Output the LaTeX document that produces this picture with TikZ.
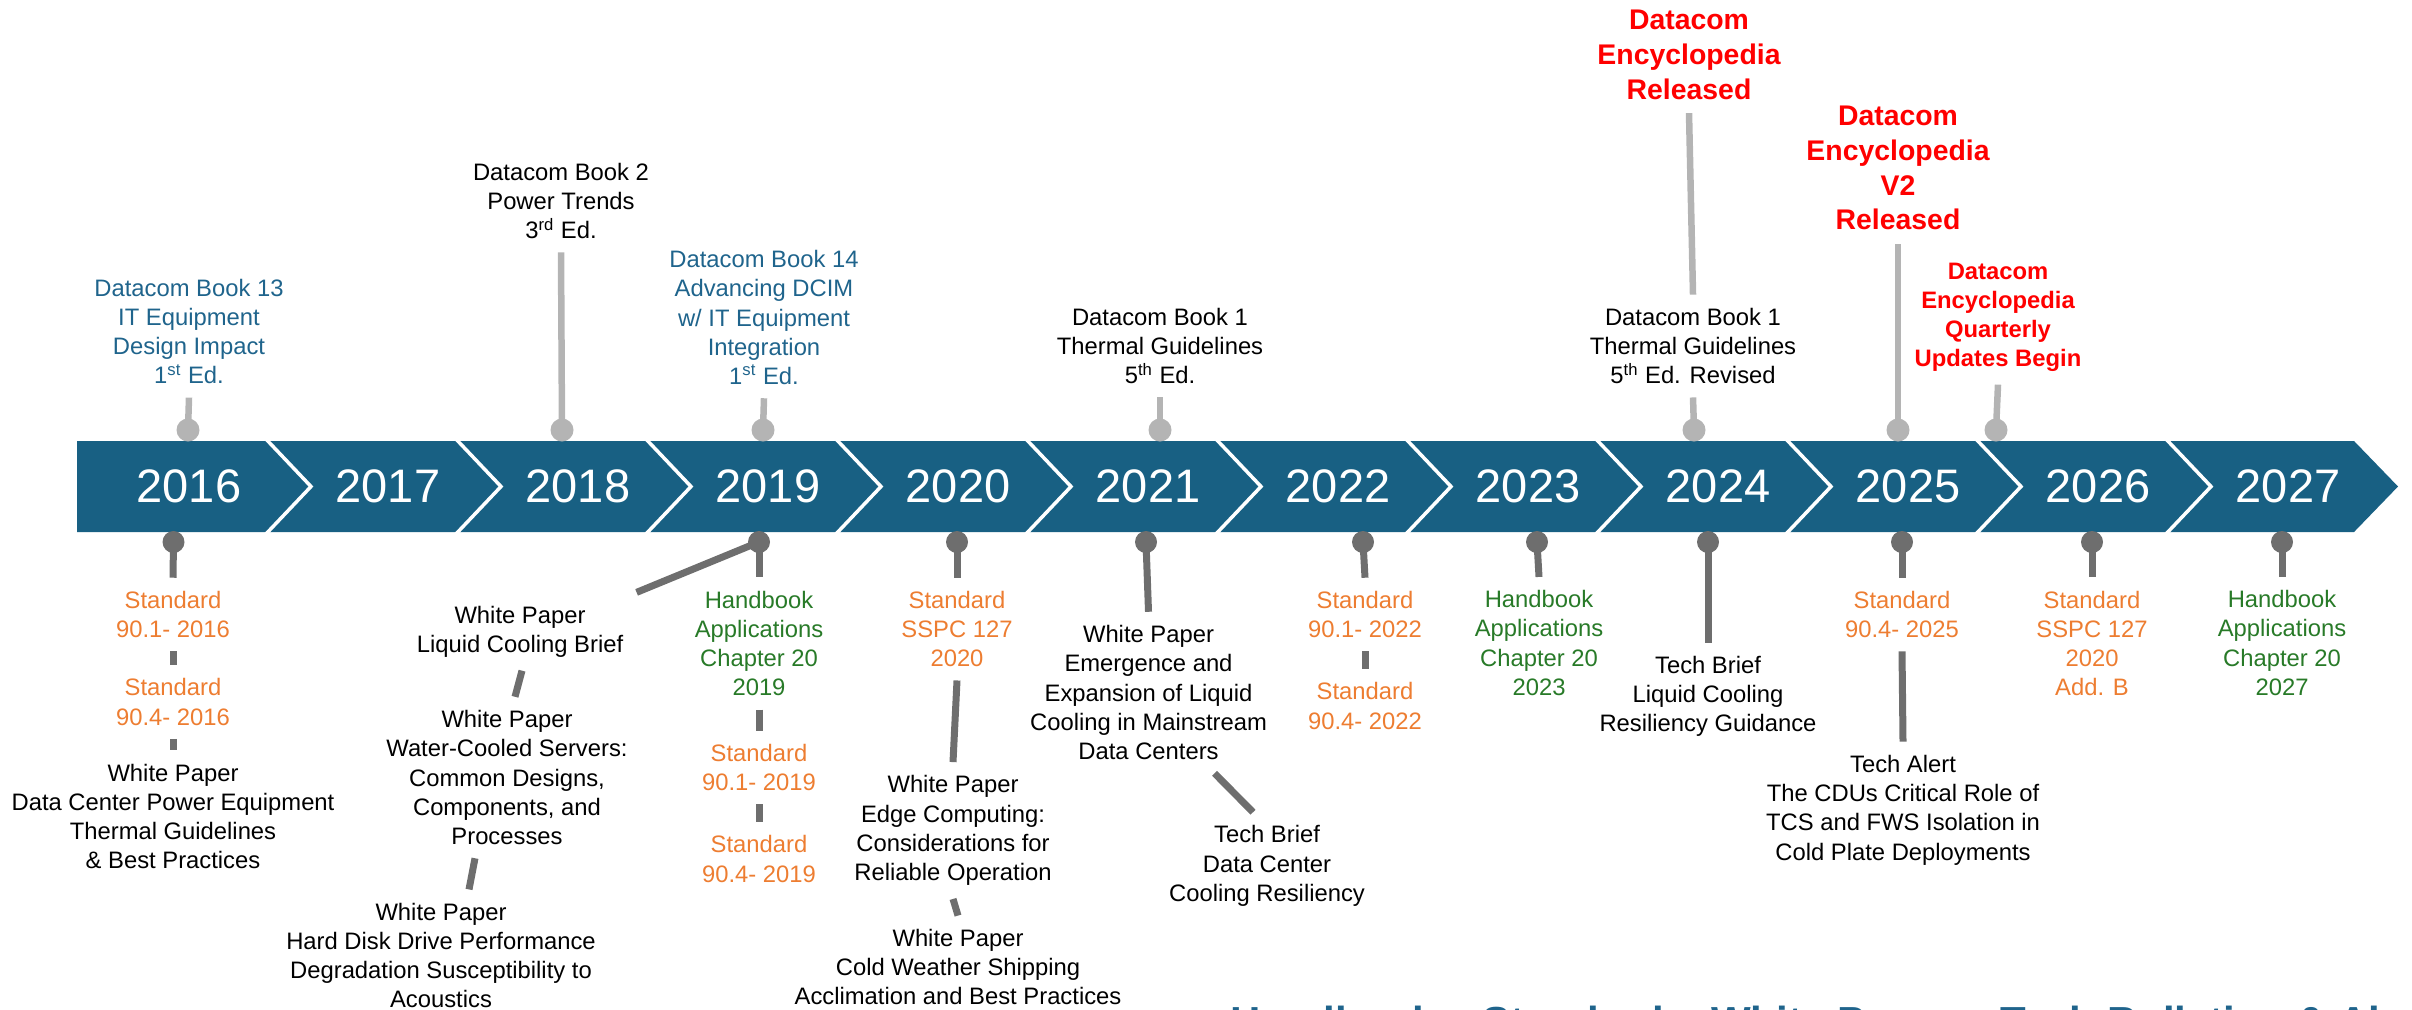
\documentclass[tikz,border=0pt]{standalone}
\usepackage{fontspec}
\setmainfont{Liberation Sans}
\usetikzlibrary{calc}
\definecolor{ashbar}{RGB}{24,96,131}
\definecolor{ashblue}{RGB}{31,100,140}
\definecolor{ashorange}{RGB}{237,125,49}
\definecolor{ashgreen}{RGB}{40,122,40}
\definecolor{pinlight}{RGB}{180,180,180}
\definecolor{pindark}{RGB}{110,110,110}
\tikzset{
  yr/.style={text=white,font=\fontsize{23.5}{28}\selectfont,inner sep=0pt},
  txt/.style={align=center,font=\fontsize{11.9}{14.65}\selectfont,inner sep=6.5pt},
  book/.style={txt,text=ashblue},
  std/.style={txt,text=ashorange},
  hbk/.style={txt,text=ashgreen},
  news/.style={txt,text=red,font=\fontsize{14.2}{17.4}\selectfont\bfseries},
  newss/.style={txt,text=red,font=\fontsize{11.9}{14.5}\selectfont\bfseries},
  pinup/.style={circle,fill=pinlight,minimum size=11.5pt,inner sep=0pt},
  pindn/.style={circle,fill=pindark,minimum size=11pt,inner sep=0pt},
  stemup/.style={draw=pinlight,line width=3.25pt},
  stemdn/.style={draw=pindark,line width=3.5pt}
}
\begin{document}
\begin{tikzpicture}[x=0.5pt,y=-0.5pt]
\clip (0,0) rectangle (2412,1009);
\fill[ashbar] (77,441) -- (2354,441) -- (2398,486.5) -- (2354,532) -- (77,532) -- cycle;
\foreach \k in {0,...,10} \draw[white,line width=1.75pt] ({265+190*\k},438) -- ({311+190*\k},486.5) -- ({265+190*\k},535);
\node[yr] (y2016) at (189,486) {2016};
\foreach \i in {1,...,11} {\pgfmathtruncatemacro\yy{2016+\i}
  \node[yr] (y\yy) at ({198+190*\i},486) {\yy};}
\foreach \p/\x in {2016/188,2018/562,2019/763,2021/1160,2024/1694,2025/1898,2026/1996} \node[pinup] (tp\p) at (\x,430) {};
\foreach \p/\x in {2016/173.5,2019/759,2020/957,2021/1146,2022/1363,2023/1537,2024/1708,2025/1902,2026/2092,2027/2282} \node[pindn] (bp\p) at (\x,542) {};
\node[book] (t2016) at (189,331.5) {Datacom Book 13\\IT Equipment\\Design Impact\\1\textsuperscript{st} Ed.};
\node[txt] (t2018) at (561,201) {Datacom Book 2\\Power Trends\\3\textsuperscript{rd} Ed.};
\node[book] (t2019) at (764,317.5) {Datacom Book 14\\Advancing DCIM\\w/ IT Equipment\\Integration\\1\textsuperscript{st} Ed.};
\node[txt] (t2021) at (1160,346) {Datacom Book 1\\Thermal Guidelines\\5\textsuperscript{th} Ed.};
\node[txt] (t2024) at (1693,346) {Datacom Book 1\\Thermal Guidelines\\5\textsuperscript{th} Ed. Revised};
\node[news] (enc1) at (1689,55) {Datacom\\Encyclopedia\\Released};
\node[news] (enc2) at (1898,168) {Datacom\\Encyclopedia\\V2\\Released};
\node[newss] (enc3) at (1998,317) {Datacom\\Encyclopedia\\Quarterly\\Updates Begin};
\foreach \p/\t in {2016/t2016,2018/t2018,2019/t2019,2021/t2021,2024/t2024,2025/enc2,2026/enc3} \draw[stemup] (tp\p.center) -- (\t.south);
\draw[stemup] (t2024.north) -- (enc1.south);
\node[std] (s2016a) at (173,614.5) {Standard\\90.1- 2016};
\node[std] (s2016b) at (173,702) {Standard\\90.4- 2016};
\node[txt] (wp2016) at (173,816.5) {White Paper\\Data Center Power Equipment\\Thermal Guidelines\\\& Best Practices};
\node[txt] (wpl) at (520,631.5) {White Paper\\Liquid Cooling Brief};
\node[txt] (wpw) at (507,777.5) {White Paper\\Water-Cooled Servers:\\Common Designs,\\Components, and\\Processes};
\node[txt] (wph) at (441,955.5) {White Paper\\Hard Disk Drive Performance\\Degradation Susceptibility to\\Acoustics};
\node[hbk] (h2019) at (759,643.5) {Handbook\\Applications\\Chapter 20\\2019};
\node[std] (s2019a) at (759,767.5) {Standard\\90.1- 2019};
\node[std] (s2019b) at (759,859) {Standard\\90.4- 2019};
\node[std] (s2020) at (957,629) {Standard\\SSPC 127\\2020};
\node[txt] (wpe) at (953,830.5) {White Paper\\Edge Computing:\\Considerations for\\Reliable Operation};
\node[txt] (wpc) at (958,967) {White Paper\\Cold Weather Shipping\\Acclimation and Best Practices};
\node[txt] (wpm) at (1148.5,692.5) {White Paper\\Emergence and\\Expansion of Liquid\\Cooling in Mainstream\\Data Centers};
\node[txt] (tbd) at (1267,866) {Tech Brief\\Data Center\\Cooling Resiliency};
\node[std] (s2022a) at (1365,614.5) {Standard\\90.1- 2022};
\node[std] (s2022b) at (1365,706) {Standard\\90.4- 2022};
\node[hbk] (h2023) at (1539,643) {Handbook\\Applications\\Chapter 20\\2023};
\node[txt] (tbl) at (1708,696.5) {Tech Brief\\Liquid Cooling\\Resiliency Guidance};
\node[std] (s2025) at (1902,614.5) {Standard\\90.4- 2025};
\node[txt] (ta2025) at (1903,810) {Tech Alert\\The CDUs Critical Role of\\TCS and FWS Isolation in\\Cold Plate Deployments};
\node[std] (s2026) at (2092,643.5) {Standard\\SSPC 127\\2020\\Add. B};
\node[hbk] (h2027) at (2282,643) {Handbook\\Applications\\Chapter 20\\2027};
\foreach \p/\t in {2016/s2016a,2019/h2019,2020/s2020,2021/wpm,2022/s2022a,2023/h2023,2024/tbl,2025/s2025,2026/s2026,2027/h2027} \draw[stemdn] (bp\p.center) -- (\t.north);
\foreach \a/\b in {s2016a/s2016b,s2016b/wp2016,h2019/s2019a,s2019a/s2019b,s2020/wpe,wpe/wpc,s2022a/s2022b,s2025/ta2025} \draw[stemdn] (\a.south) -- (\b.north);
\draw[stemdn] (wpl.north east) -- (bp2019.center);
\draw[stemdn] ($(wpl.south)+(2,0)$) -- ($(wpw.north)+(8,0)$);
\draw[stemdn] ($(wpw.south)+(-32,0)$) -- ($(wph.north)+(28,0)$);
\draw[stemdn] ($(wpm.south)+(66,0)$) -- ($(tbd.north)+(-14,0)$);
\node[anchor=base west,inner sep=0pt,text=ashblue,font=\fontsize{21}{25}\selectfont\bfseries] (title) at (1230,1036) {Handbooks, Standards, White Papers, Tech Bulletins \& Alerts};
\end{tikzpicture}
\end{document}
